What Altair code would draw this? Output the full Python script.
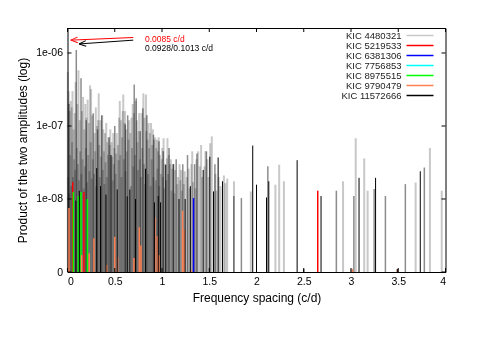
import altair as alt
import pandas as pd

series_names = ["KIC 4480321", "KIC 5219533", "KIC 6381306", "KIC 7756853",
                "KIC 8975515", "KIC 9790479", "KIC 11572666"]
series_colors = ["#c8c8c8", "#ff0000", "#0000ff", "#00ffff",
                 "#00ff00", "#ff7f50", "#000000"]

x_ticks = [0, 0.5, 1, 1.5, 2, 2.5, 3, 3.5, 4]
y_ticks = [1e-9, 1e-8, 1e-7, 1e-6]

# (frequency spacing c/d, product of amplitudes)
gray_peaks = [
    (0.003, 5.5e-7), (0.008, 2.0e-8), (0.012, 3.0e-7), (0.018, 1.2e-8), (0.022, 1.6e-7),
    (0.028, 4.0e-8), (0.033, 2.2e-7), (0.038, 1.5e-8), (0.043, 1.8e-7), (0.048, 6.0e-8),
    (0.053, 3.0e-7), (0.058, 2.0e-8), (0.064, 9.0e-8), (0.070, 3.5e-8), (0.076, 1.5e-7),
    (0.081, 2.5e-8), (0.086, 4.0e-7), (0.099, 5.0e-8), (0.104, 2.0e-7), (0.110, 3.0e-8),
    (0.116, 5.8e-7), (0.122, 1.8e-8), (0.128, 1.2e-7), (0.134, 4.5e-8), (0.147, 2.2e-8),
    (0.153, 1.6e-7), (0.159, 3.5e-8), (0.165, 2.5e-7), (0.171, 1.4e-8), (0.177, 9.0e-8),
    (0.183, 2.8e-8), (0.189, 2.0e-7), (0.195, 5.0e-8), (0.201, 1.3e-7), (0.207, 1.7e-8),
    (0.213, 2.3e-7), (0.219, 4.0e-8), (0.226, 1.1e-7), (0.232, 2.4e-8), (0.238, 3.6e-7),
    (0.244, 6.0e-8), (0.250, 3.2e-7), (0.256, 1.9e-8), (0.262, 1.4e-7), (0.268, 3.5e-8),
    (0.281, 2.2e-8), (0.287, 8.0e-8), (0.293, 4.5e-8), (0.299, 1.8e-7), (0.305, 1.5e-8),
    (0.311, 1.0e-7), (0.324, 1.2e-7), (0.330, 2.8e-7), (0.336, 5.5e-8), (0.342, 2.0e-8),
    (0.348, 1.2e-7), (0.354, 3.8e-8), (0.367, 1.4e-7), (0.373, 2.5e-8), (0.379, 9.0e-8),
    (0.385, 4.5e-8), (0.391, 1.6e-8), (0.397, 8.0e-8), (0.403, 3.2e-8), (0.410, 1.1e-7),
    (0.416, 2.0e-8), (0.422, 6.0e-8), (0.428, 4.0e-8), (0.434, 7.0e-8), (0.447, 5.5e-8),
    (0.453, 9.0e-8), (0.466, 6.0e-8), (0.472, 3.8e-8), (0.478, 1.8e-8), (0.484, 8.0e-8),
    (0.490, 3.0e-8), (0.496, 5.0e-8), (0.509, 2.2e-8), (0.515, 4.2e-8), (0.521, 8.0e-8),
    (0.534, 5.5e-8), (0.540, 3.4e-8), (0.546, 1.3e-7), (0.553, 2.2e-7), (0.559, 4.0e-8),
    (0.565, 1.2e-7), (0.571, 2.0e-8), (0.578, 7.0e-8), (0.584, 1.6e-7), (0.590, 2.7e-7),
    (0.596, 3.5e-8), (0.603, 1.1e-7), (0.609, 1.6e-7), (0.615, 2.4e-8), (0.621, 9.0e-8),
    (0.627, 4.5e-8), (0.646, 6.5e-8), (0.652, 1.2e-7), (0.665, 8.0e-8), (0.671, 1.5e-8),
    (0.677, 1.3e-7), (0.683, 5.0e-8), (0.690, 2.0e-7), (0.696, 2.8e-8), (0.702, 1.5e-7),
    (0.715, 4.0e-8), (0.721, 2.2e-7), (0.734, 1.2e-7), (0.740, 6.0e-8), (0.746, 2.5e-8),
    (0.752, 8.5e-8), (0.759, 1.5e-7), (0.765, 3.5e-8), (0.777, 2.0e-8), (0.784, 1.5e-7),
    (0.790, 5.0e-8), (0.803, 2.8e-7), (0.809, 3.0e-8), (0.815, 1.3e-7), (0.821, 1.6e-8),
    (0.830, 2.7e-7), (0.834, 8.5e-8), (0.846, 6.5e-8), (0.853, 2.2e-8), (0.859, 1.1e-7),
    (0.865, 5.0e-8), (0.871, 8.0e-8), (0.878, 1.5e-8), (0.884, 1.1e-7), (0.890, 3.5e-8),
    (0.896, 5.5e-8), (0.903, 9.0e-8), (0.909, 2.0e-8), (0.915, 6.5e-8), (0.928, 7.0e-8),
    (0.934, 1.8e-8), (0.940, 5.0e-8), (0.946, 6.5e-8), (0.953, 2.6e-8), (0.959, 4.5e-8),
    (0.965, 7.0e-8), (0.971, 1.5e-8), (0.978, 4.0e-8), (0.990, 2.2e-8), (0.997, 3.5e-8),
    (1.003, 5.0e-8), (1.010, 2.0e-8), (1.017, 6.8e-8), (1.023, 1.4e-8), (1.030, 3.0e-8),
    (1.044, 1.8e-8), (1.051, 3.6e-8), (1.058, 6.8e-8), (1.065, 2.2e-8), (1.072, 4.0e-8),
    (1.086, 3.0e-8), (1.094, 3.5e-8), (1.101, 1.3e-8), (1.108, 2.6e-8), (1.124, 3.0e-8),
    (1.131, 1.2e-8), (1.139, 2.5e-8), (1.162, 1.6e-8), (1.170, 2.0e-8), (1.186, 3.0e-8),
    (1.194, 1.8e-8), (1.202, 2.5e-8), (1.210, 1.3e-8), (1.230, 1.6e-8), (1.240, 2.4e-8),
    (1.262, 2.0e-8), (1.282, 2.6e-8), (1.292, 1.4e-8), (1.311, 3.0e-8), (1.320, 4.5e-8),
    (1.328, 1.7e-8), (1.355, 1.4e-8), (1.365, 3.5e-8), (1.383, 4.5e-8), (1.400, 2.8e-8),
    (1.414, 5.5e-8), (1.424, 2.0e-8), (1.450, 2.8e-8), (1.460, 4.5e-8), (1.480, 3.5e-8),
    (1.492, 2.0e-8), (1.510, 5.8e-8), (1.527, 7.2e-8), (1.565, 2.2e-8), (1.575, 1.3e-8),
    (1.600, 2.0e-8), (1.618, 1.5e-8), (1.655, 2.1e-8), (1.670, 1.65e-8), (1.690, 1.9e-8),
    (1.762, 1.75e-8), (1.940, 1.27e-8), (2.200, 1.57e-8), (2.240, 2.95e-8), (2.290, 1.75e-8),
    (2.916, 1.75e-8), (3.000, 1.1e-9), (3.050, 6.8e-8), (3.140, 3.6e-8), (3.176, 1.3e-8),
    (3.684, 1.68e-8), (3.835, 5.0e-8), (3.960, 1.3e-8),
]

# KIC 11572666 peaks that render as half-tone (anti-aliased) grey in the reference
black_faint_peaks = [
    (0.015, 2.0e-7), (0.093, 1.1e-6), (0.143, 4.5e-7), (0.198, 1.2e-7), (0.272, 1.5e-7),
    (0.318, 9.0e-8), (0.362, 1.4e-7), (0.440, 7.0e-8), (0.500, 1.0e-7), (0.612, 1.05e-7),
    (0.637, 1.4e-7), (0.706, 3.7e-7), (0.727, 2.4e-7), (0.770, 8.5e-8), (0.797, 1.75e-7),
    (0.840, 1.4e-7), (0.910, 7.6e-8), (0.968, 6.2e-8), (1.013, 4.5e-8), (1.075, 5.0e-8),
    (1.150, 3.5e-8), (1.220, 3.0e-8), (1.270, 4.0e-8), (1.345, 3.0e-8), (1.370, 4.2e-8),
    (1.470, 4.5e-8), (1.560, 3.0e-8), (1.760, 1.1e-8), (1.840, 1.03e-8), (2.120, 2.8e-8),
    (2.845, 1.3e-8), (3.030, 1.1e-8), (3.245, 1.37e-8), (3.364, 1.1e-8), (3.575, 1.6e-8),
    (3.776, 2.7e-8),
]
black_peaks = [
    (0.088, 9.5e-9), (0.125, 1.3e-8), (0.309, 2.65e-8), (0.350, 1.5e-8), (0.407, 1.15e-8),
    (0.460, 4.0e-8), (0.526, 1.35e-8), (0.632, 1.09e-8), (0.660, 1.35e-8), (0.720, 1.0e-8),
    (0.826, 2.6e-8), (0.920, 9.0e-9), (0.960, 1.1e-8), (0.985, 9.0e-9), (1.040, 2.95e-8),
    (1.118, 3.0e-8), (1.180, 1.0e-8), (1.245, 1.0e-8), (1.300, 1.5e-8), (1.436, 2.5e-8),
    (1.506, 3.8e-8), (1.545, 1.27e-8), (1.594, 3.7e-8), (1.640, 1.75e-8),
    (1.960, 5.4e-8), (2.000, 1.57e-8), (2.106, 1.05e-8),
    (2.130, 1.75e-8), (2.430, 3.4e-8), (2.500, 1.1e-9), (2.683, 1.1e-8),
    (3.085, 1.95e-8), (3.260, 1.95e-8),
    (3.490, 1.1e-9), (3.733, 2.4e-8),
]

red_peaks = [(0.055, 1.7e-8), (0.174, 1.25e-8), (2.648, 1.3e-8)]
blue_peaks = [(1.334, 1.03e-8)]
cyan_peaks = []
green_peaks = [(0.062, 1.25e-8), (0.114, 1.1e-8), (0.143, 1.25e-8), (0.210, 1.0e-8)]
orange_peaks = [
    (0.016, 7.5e-9), (0.150, 1.7e-9), (0.230, 1.8e-9), (0.280, 2.9e-9), (0.414, 1.25e-9),
    (0.500, 3.05e-9), (0.530, 1.6e-9), (0.703, 1.55e-9), (0.760, 4.1e-9), (0.777, 2.3e-9),
    (0.925, 5.6e-9), (0.950, 3.1e-9), (0.967, 1.7e-9), (1.218, 6.9e-9), (1.235, 3.8e-9),
    (1.310, 1.05e-9), (3.015, 1.1e-9), (3.490, 1.08e-9),
]

# annotation arrows: start (x, y) -> tip (x, y)
arrow_x0 = [0.696, 0.696]
arrow_y0 = [1.63e-6, 1.5e-6]
arrow_x1 = [0.034, 0.122]
arrow_y1 = [1.5e-6, 1.33e-6]
arrow_colors = ["#ff0000", "#000000"]
arrow_angles = [358, 356]
note_x = [0.82, 0.82]
note_y = [1.57e-6, 1.17e-6]
note_text = ["0.0085 c/d", "0.0928/0.1013 c/d"]


def frame(peaks, name):
    return pd.DataFrame({"freq": [p[0] for p in peaks],
                         "amp": [p[1] for p in peaks],
                         "star": [name] * len(peaks)})


gray_df = frame(gray_peaks, series_names[0])
black_df = frame(black_peaks, series_names[6])
faint_df = frame(black_faint_peaks, series_names[6])
color_df = pd.concat([frame(red_peaks, series_names[1]),
                      frame(blue_peaks, series_names[2]),
                      frame(cyan_peaks, series_names[3]),
                      frame(green_peaks, series_names[4]),
                      frame(orange_peaks, series_names[5])], ignore_index=True)

W, H = 378, 244
FONT = "Liberation Sans"

X = alt.X("freq:Q", scale=alt.Scale(domain=[0, 4], nice=False, zero=False),
          axis=alt.Axis(values=x_ticks, format="~g", title="Frequency spacing (c/d)",
                        labelPadding=4, titleY=25, titleBaseline="middle"))
Y = alt.Y("amp:Q", scale=alt.Scale(type="log", domain=[1e-9, 2.2e-6], nice=False),
          axis=alt.Axis(values=y_ticks,
                        labelExpr="datum.value < 2e-9 ? '0' : '1e-0' + round(-log(datum.value)/LN10)",
                        title="Product of the two amplitudes (log)", labelPadding=5,
                        titleX=-45.5, titleY=H / 2, titleBaseline="middle"))
Y2 = alt.datum(1e-9)
C = alt.Color("star:N", scale=alt.Scale(domain=series_names, range=series_colors),
              legend=alt.Legend(title=None, orient="none", legendX=323, legendY=2,
                                symbolType="M -3 0 L 3 0", symbolSize=81,
                                symbolStrokeWidth=1.5, symbolOffset=24,
                                labelAlign="right", labelOffset={"expr": "-24"},
                                labelFontSize=9.5, labelFont=FONT, labelColor="#222222",
                                rowPadding=0, padding=0))

gray_layer = alt.Chart(gray_df).mark_rule(strokeWidth=2, blend="multiply").encode(
    x=X, y=Y, y2=Y2, color=C)
faint_layer = alt.Chart(faint_df).mark_rule(strokeWidth=1.5, color="#000000", opacity=0.45).encode(
    x=X, y=Y, y2=Y2)
black_layer = alt.Chart(black_df).mark_rule(strokeWidth=1).encode(
    x=X, y=Y, y2=Y2, color=C)
color_layer = alt.Chart(color_df).mark_rule(strokeWidth=1.5).encode(
    x=X, y=Y, y2=Y2, color=C)

xt = pd.DataFrame({"freq": x_ticks})
yt = pd.DataFrame({"amp": y_ticks})
tick_bottom = alt.Chart(xt).mark_rule(color="black").encode(x=X, y=alt.value(H), y2=alt.value(H - 4))
tick_top = alt.Chart(xt).mark_rule(color="black").encode(x=X, y=alt.value(0), y2=alt.value(4))
tick_left = alt.Chart(yt).mark_rule(color="black").encode(y=Y, x=alt.value(0), x2=alt.value(4))
tick_right = alt.Chart(yt).mark_rule(color="black").encode(y=Y, x=alt.value(W), x2=alt.value(W - 4))

arrows_df = pd.DataFrame({"x0": arrow_x0, "y0": arrow_y0, "x1": arrow_x1, "y1": arrow_y1,
                          "c": arrow_colors, "ang": arrow_angles})
shafts = alt.Chart(arrows_df).mark_rule(strokeWidth=1).encode(
    x=alt.X("x0:Q", scale=alt.Scale(domain=[0, 4], nice=False, zero=False)),
    x2="x1:Q",
    y=alt.Y("y0:Q", scale=alt.Scale(type="log", domain=[1e-9, 2.2e-6], nice=False)),
    y2="y1:Q",
    color=alt.Color("c:N", scale=None))
heads = alt.Chart(arrows_df).mark_point(shape="M 0 0 L 2 -0.8 M 0 0 L 2 0.8", size=49,
                                        filled=False, strokeWidth=1, opacity=1).encode(
    x=alt.X("x1:Q"), y=alt.Y("y1:Q"), color=alt.Color("c:N", scale=None),
    angle=alt.Angle("ang:Q", scale=None))
notes_df = pd.DataFrame({"freq": note_x, "amp": note_y, "t": note_text, "c": arrow_colors})
notes = alt.Chart(notes_df).mark_text(align="left", baseline="middle", fontSize=8.5,
                                      font=FONT).encode(
    x=X, y=Y, text="t:N", color=alt.Color("c:N", scale=None))

chart = alt.layer(gray_layer, faint_layer, color_layer, black_layer,
                  tick_bottom, tick_top, tick_left, tick_right,
                  shafts, heads, notes).properties(
    width=W, height=H,
    autosize=alt.AutoSizeParams(type="none"),
    padding={"left": 59.5, "top": 20, "right": 30, "bottom": 60},
).configure_view(stroke="black", strokeWidth=1).configure_axis(
    grid=False, domain=False, ticks=False, labelFont=FONT, labelFontSize=10.5,
    labelColor="#000000", titleFont=FONT, titleFontSize=12, titleFontWeight="normal",
    titleColor="#000000")

chart.save("out.html", embed_options={"renderer": "svg", "actions": False})
